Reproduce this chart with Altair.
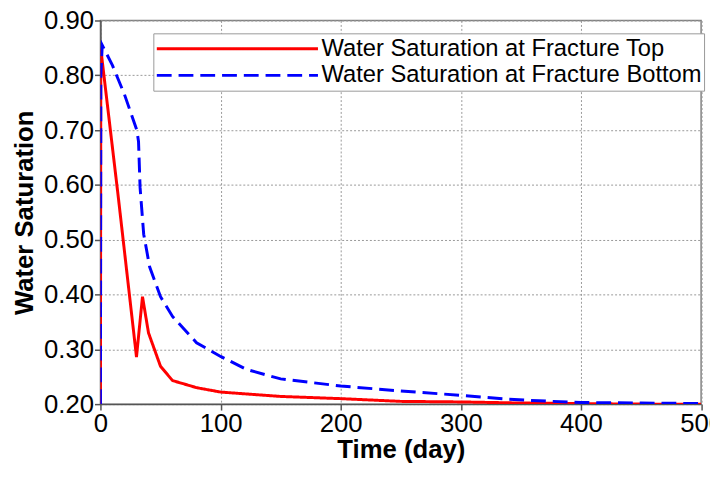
import altair as alt
import pandas as pd

top_t = [0, 0.3, 15, 30, 35, 40, 50, 60, 80, 100, 150, 200, 250, 300, 350, 400, 450, 500]
top_v = [0.20, 0.848, 0.575, 0.286, 0.396, 0.330, 0.269, 0.243, 0.230, 0.222,
         0.214, 0.210, 0.205, 0.204, 0.202, 0.201, 0.200, 0.200]

bot_t = [0, 0.3, 1.5, 10, 20, 30.3, 31.7, 33, 36, 41, 50, 60, 80, 100, 122, 150, 200,
         250, 300, 340, 365, 400, 450, 500]
bot_v = [0.20, 0.80, 0.855, 0.818, 0.765, 0.700, 0.679, 0.595, 0.510, 0.450, 0.396,
         0.360, 0.312, 0.287, 0.263, 0.246, 0.233, 0.224, 0.216, 0.209, 0.206, 0.203,
         0.202, 0.201]

s_top = "Water Saturation at Fracture Top"
s_bot = "Water Saturation at Fracture Bottom"

x_ticks = [0, 100, 200, 300, 400, 500]
y_ticks = [0.2, 0.3, 0.4, 0.5, 0.6, 0.7, 0.8, 0.9]

df = pd.DataFrame(
    {"t": top_t + bot_t,
     "v": top_v + bot_v,
     "series": [s_top] * len(top_t) + [s_bot] * len(bot_t),
     "ord": list(range(len(top_t))) + list(range(len(bot_t)))}
)

FONT = "Liberation Sans, Arial, sans-serif"

legend = alt.Legend(
    orient="none", legendX=53.5, legendY=13, title=None,
    symbolType="stroke", symbolSize=26569, symbolStrokeWidth=3,
    clipHeight=27, labelFontSize=24, labelFont=FONT, labelColor="black",
    strokeColor="#999999", fillColor="white", padding=2, labelOffset=2,
    symbolOffset=0, rowPadding=0, labelLimit=1000,
)

color = alt.Color("series:N", scale=alt.Scale(domain=[s_top, s_bot], range=["#ff0000", "#0000ff"]),
                  legend=legend)
dash = alt.StrokeDash("series:N", scale=alt.Scale(domain=[s_top, s_bot], range=[[1, 0], [15, 7]]),
                      legend=legend)

x = alt.X("t:Q", title="Time (day)",
          scale=alt.Scale(domain=[0, 500], nice=False, zero=False),
          axis=alt.Axis(values=x_ticks, labelFlush=False, labelOverlap=False,
                        labelPadding=1, titlePadding=0))
y = alt.Y("v:Q", title="Water Saturation",
          scale=alt.Scale(domain=[0.2, 0.9], nice=False, zero=False),
          axis=alt.Axis(values=y_ticks, format=".2f", labelPadding=1, titlePadding=6,
                        labelOverlap=False))

base = alt.Chart(df).mark_line(strokeWidth=3, clip=True).encode(
    x=x, y=y, color=color, strokeDash=dash, order="ord:Q")

red = base.transform_filter(alt.datum.series == s_top)
blue = base.transform_filter(alt.datum.series == s_bot)

chart = alt.layer(red, blue).properties(
    width=607.5, height=388,
    autosize=alt.AutoSizeParams(type="none"),
    padding={"left": 93.5, "top": 10, "right": 9, "bottom": 64},
).configure_view(
    stroke="#808080", strokeWidth=1.5
).configure_axis(
    grid=True, gridColor="#999999", gridDash=[2, 2], gridWidth=1,
    domainColor="#555555", domainWidth=1.5, tickColor="#555555", tickSize=6, tickWidth=1.5,
    labelFont=FONT, labelFontSize=26, labelColor="black",
    titleFont=FONT, titleFontSize=26, titleFontWeight="bold", titleColor="black",
)

chart.save("out.html", embed_options={"renderer": "svg", "actions": False})
